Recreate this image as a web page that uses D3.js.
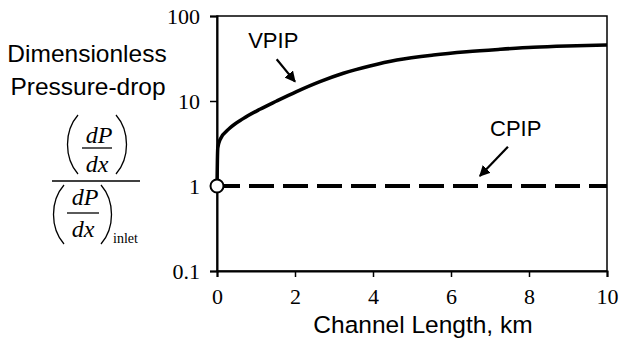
<!DOCTYPE html>
<html>
<head>
<meta charset="utf-8">
<script src="https://cdn.jsdelivr.net/npm/d3@7"></script>
<style>
  body { margin: 0; background: #fff; }
  svg { display: block; }
</style>
</head>
<body>
<svg width="619" height="343"></svg>
<script>
// data
const vpipX = [0, 0.01, 0.02, 0.077, 0.33, 0.67, 1.10, 1.53, 2.04, 2.64, 3.24, 3.92, 4.61, 5.55, 6.40, 7.26, 8.11, 8.97, 10];
const vpipY = [1, 2.0, 2.8, 3.5, 4.8, 6.2, 8.0, 10.0, 12.9, 16.9, 21.2, 25.8, 30.3, 34.8, 38.0, 40.6, 42.9, 44.4, 45.6];
const cpipX = [0, 10];
const cpipY = [1, 1];
const xTicks = [0, 2, 4, 6, 8, 10];
const yTicks = [0.1, 1, 10, 100];

const svg = d3.select("svg"),
    margin = { top: 16, right: 12, bottom: 72, left: 217 },
    width = +svg.attr("width") - margin.left - margin.right,
    height = +svg.attr("height") - margin.top - margin.bottom;

const x = d3.scaleLinear().domain([0, 10]).range([0, width]);
const y = d3.scaleLog().domain([0.1, 100]).range([height, 0]);

const g = svg.append("g").attr("transform", `translate(${margin.left},${margin.top})`);

// frame
g.append("rect")
    .attr("width", width).attr("height", height)
    .attr("fill", "none").attr("stroke", "#000").attr("stroke-width", 1.5);

// axes
const xAxis = g.append("g")
    .attr("transform", `translate(0,${height})`)
    .call(d3.axisBottom(x).tickValues(xTicks).tickSize(6).tickPadding(11).tickFormat(d3.format("d")));
const yAxis = g.append("g")
    .call(d3.axisLeft(y).tickValues(yTicks).tickSize(7).tickPadding(10).tickFormat(d => d));
[xAxis, yAxis].forEach(a => {
    a.select(".domain").attr("stroke-width", 2);
    a.selectAll(".tick line").attr("stroke-width", 1.5);
    a.selectAll("text")
        .style("font-family", "'Liberation Serif', 'Times New Roman', serif")
        .style("font-size", "22px")
        .attr("fill", "#000");
});
yAxis.selectAll("text").attr("dy", "0.35em");

// lines
const line = d3.line().x(d => x(d[0])).y(d => y(d[1])).curve(d3.curveMonotoneX);
g.append("path")
    .datum(cpipX.map((v, i) => [v, cpipY[i]]))
    .attr("d", line)
    .attr("fill", "none").attr("stroke", "#000")
    .attr("stroke-width", 4).attr("stroke-dasharray", "25,9")
    .attr("stroke-dashoffset", 2);
g.append("path")
    .datum(vpipX.map((v, i) => [v, vpipY[i]]))
    .attr("d", line)
    .attr("fill", "none").attr("stroke", "#000").attr("stroke-width", 3.5);

// start point
g.append("circle")
    .attr("cx", x(0)).attr("cy", y(1)).attr("r", 6.5)
    .attr("fill", "#fff").attr("stroke", "#000").attr("stroke-width", 2);

// annotations
const defs = svg.append("defs");
defs.append("marker")
    .attr("id", "head").attr("viewBox", "0 0 10 10")
    .attr("refX", 9).attr("refY", 5)
    .attr("markerWidth", 5).attr("markerHeight", 5)
    .attr("orient", "auto")
    .append("path").attr("d", "M0,0 L10,5 L0,10 Z").attr("fill", "#000");

const sansFont = "'Liberation Sans', Arial, sans-serif";
const notes = [
    { label: "VPIP", lx: 0.8, ly: 42, from: [1.53, 31], to: [2.0, 16.9] },
    { label: "CPIP", lx: 7.0, ly: 3.87, from: [7.46, 2.9], to: [6.74, 1.31] }
];
notes.forEach(n => {
    g.append("text")
        .attr("x", x(n.lx)).attr("y", y(n.ly))
        .style("font-family", sansFont).style("font-size", "22px")
        .text(n.label);
    g.append("line")
        .attr("x1", x(n.from[0])).attr("y1", y(n.from[1]))
        .attr("x2", x(n.to[0])).attr("y2", y(n.to[1]))
        .attr("stroke", "#000").attr("stroke-width", 2.2)
        .attr("marker-end", "url(#head)");
});

// x axis title
svg.append("text")
    .attr("x", 423).attr("y", 333)
    .attr("text-anchor", "middle")
    .style("font-family", sansFont).style("font-size", "24.5px")
    .text("Channel Length, km");

// y axis title
const yt = svg.append("g");
yt.append("text").attr("x", 87).attr("y", 62).attr("text-anchor", "middle")
    .style("font-family", sansFont).style("font-size", "24.5px").text("Dimensionless");
yt.append("text").attr("x", 88).attr("y", 95).attr("text-anchor", "middle")
    .style("font-family", sansFont).style("font-size", "24.5px").text("Pressure-drop");

// the (dP/dx) / (dP/dx)inlet fraction
const serif = "'Liberation Serif', 'Times New Roman', serif";
function paren(xp, top, bottom, dir) {
    const k = 11 * dir;
    yt.append("path")
        .attr("d", `M${xp + k},${top} C${xp - 3 * dir},${top + 16} ${xp - 3 * dir},${bottom - 16} ${xp + k},${bottom}`)
        .attr("fill", "none").attr("stroke", "#000").attr("stroke-width", 1.3);
}
function ratio(cx, base1, base2, barY, barW) {
    yt.append("text").attr("x", cx + 2).attr("y", base1).attr("text-anchor", "middle")
        .style("font-family", serif).style("font-style", "italic").style("font-size", "24px").text("dP");
    yt.append("line").attr("x1", cx - barW / 2).attr("x2", cx + barW / 2)
        .attr("y1", barY).attr("y2", barY).attr("stroke", "#000").attr("stroke-width", 1.3);
    yt.append("text").attr("x", cx).attr("y", base2).attr("text-anchor", "middle")
        .style("font-family", serif).style("font-style", "italic").style("font-size", "24px").text("dx");
}
// numerator
paren(67, 115, 174, 1);
paren(127, 115, 174, -1);
ratio(97, 143, 172, 148, 30);
// main bar
yt.append("line").attr("x1", 52).attr("x2", 140).attr("y1", 181).attr("y2", 181)
    .attr("stroke", "#000").attr("stroke-width", 1.3);
// denominator
paren(53, 185, 244, 1);
paren(112, 185, 244, -1);
ratio(83, 205, 237, 213, 32);
yt.append("text").attr("x", 113).attr("y", 243)
    .style("font-family", serif).style("font-size", "14px").text("inlet");
</script>
</body>
</html>
